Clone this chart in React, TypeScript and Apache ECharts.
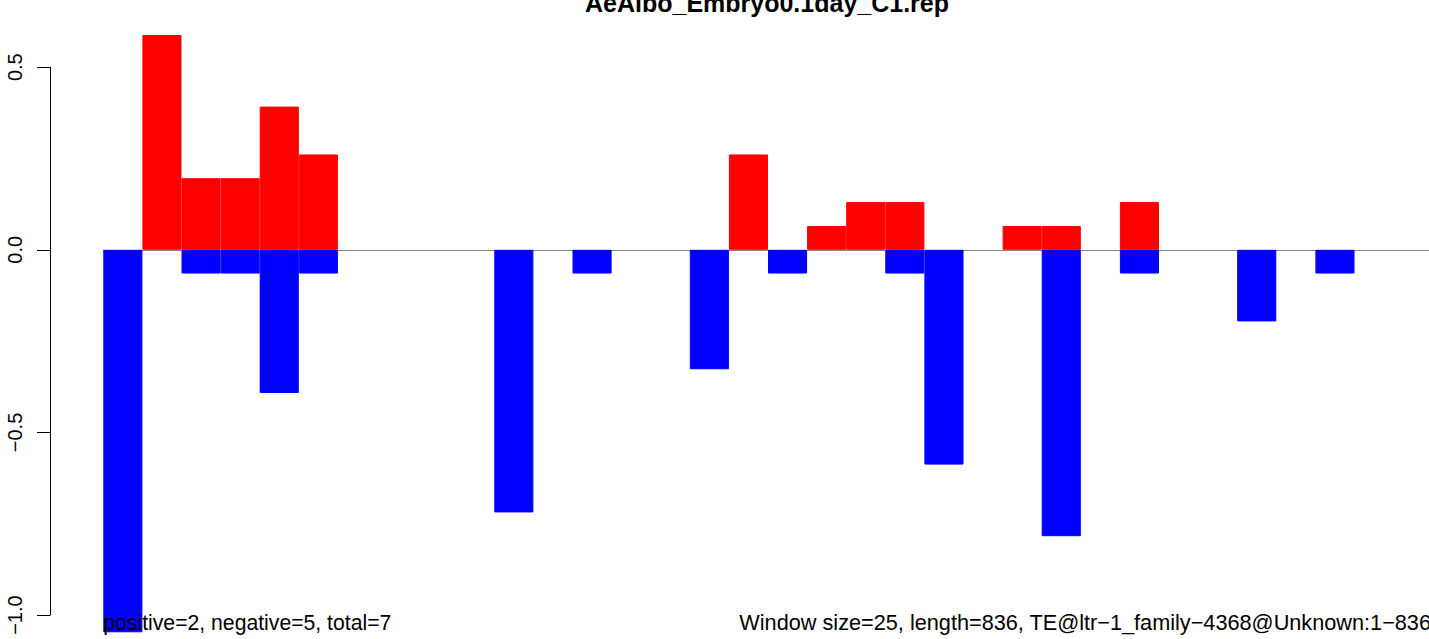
import React, { useEffect, useRef } from "react";
import * as echarts from "echarts";

const windows = [1, 2, 3, 4, 5, 6, 7, 8, 9, 10, 11, 12, 13, 14, 15, 16, 17, 18, 19, 20, 21, 22, 23, 24, 25, 26, 27, 28, 29, 30, 31, 32, 33, 34];
const positiveValues = [null, 0.588, 0.196, 0.196, 0.392, 0.261, null, null, null, null, null, null, null, null, null, null, 0.261, null, 0.065, 0.131, 0.131, null, null, 0.065, 0.065, null, 0.131, null, null, null, null, null, null, null];
const negativeValues = [-1.047, null, -0.065, -0.065, -0.392, -0.065, null, null, null, null, -0.719, null, -0.065, null, null, -0.327, null, -0.065, null, null, -0.065, -0.588, null, null, -0.784, null, -0.065, null, null, -0.196, null, -0.065, null, null];
const yTicks = [-1, -0.5, 0, 0.5];
const titleText = "AeAlbo_Embryo0.1day_C1.rep";
const leftNote = "positive=2, negative=5, total=7";
const rightNote = "Window size=25, length=836, TE@ltr\u22121_family\u22124368@Unknown:1\u2212836";

const FONT = '"Liberation Sans", Arial, Helvetica, sans-serif';

export default function App() {
  const ref = useRef<HTMLDivElement>(null);
  useEffect(() => {
    if (!ref.current) return;
    const chart = echarts.init(ref.current, undefined, { renderer: "svg" });
    const zeroY = 249.8;
    const unit = 365.3;
    const H = 639;
    const yMax = zeroY / unit;
    const yMin = -(H - zeroY) / unit;
    chart.setOption({
      animation: false,
      backgroundColor: "#ffffff",
      grid: [
        { left: 103.3, top: 0, width: 39.1 * windows.length, height: H, containLabel: false },
        { left: 50, top: zeroY - 0.5 * unit, width: 10, height: 1.5 * unit, containLabel: false },
      ],
      xAxis: [
        {
          type: "category",
          gridIndex: 0,
          data: windows.map(String),
          axisLine: { show: true, onZero: true, lineStyle: { color: "#858585", width: 1.2 } },
          axisTick: { show: false },
          axisLabel: { show: false },
          splitLine: { show: false },
        },
        { type: "value", gridIndex: 1, show: false, min: 0, max: 1 },
      ],
      yAxis: [
        { type: "value", gridIndex: 0, show: false, min: yMin, max: yMax, splitLine: { show: false } },
        {
          type: "value",
          gridIndex: 1,
          min: yTicks[0],
          max: yTicks[yTicks.length - 1],
          interval: 0.5,
          axisLine: { show: true, lineStyle: { color: "#000", width: 1 } },
          axisTick: { show: true, length: 13, lineStyle: { color: "#000", width: 1 } },
          splitLine: { show: false },
          axisLabel: {
            show: true,
            rotate: 90,
            margin: 25,
            fontSize: 20,
            fontFamily: FONT,
            color: "#000",
            formatter: (v: number) => v.toFixed(1).replace("-", "\u2212"),
          },
        },
      ],
      series: [
        {
          type: "bar",
          name: "positive",
          xAxisIndex: 0,
          yAxisIndex: 0,
          data: positiveValues,
          barGap: "-100%",
          barCategoryGap: "0%",
          itemStyle: { color: "#ff0000", borderColor: "#ff0000", borderWidth: 1 },
          z: 3,
        },
        {
          type: "bar",
          name: "negative",
          xAxisIndex: 0,
          yAxisIndex: 0,
          data: negativeValues,
          barGap: "-100%",
          barCategoryGap: "0%",
          itemStyle: { color: "#0000ff", borderColor: "#0000ff", borderWidth: 1 },
          z: 3,
        },
      ],
      graphic: [
        {
          type: "text",
          x: 767,
          y: 15.5,
          z: 100,
          style: { text: titleText, fontSize: 25, fontWeight: "bold", fontFamily: FONT, fill: "#000", align: "center", verticalAlign: "bottom" },
        },
        {
          type: "text",
          x: 103.3,
          y: 633,
          z: 100,
          style: { text: leftNote, fontSize: 21.2, fontFamily: FONT, fill: "#000", align: "left", verticalAlign: "bottom" },
        },
        {
          type: "text",
          x: 1431,
          y: 633,
          z: 100,
          style: { text: rightNote, fontSize: 21.7, fontFamily: FONT, fill: "#000", align: "right", verticalAlign: "bottom" },
        },
      ],
    });
    return () => chart.dispose();
  }, []);
  return (
    <div style={{ position: "absolute", left: 0, top: 0, width: 1429, height: 639, overflow: "hidden", background: "#fff" }}>
      <div ref={ref} style={{ width: 1433, height: 639 }} />
    </div>
  );
}
